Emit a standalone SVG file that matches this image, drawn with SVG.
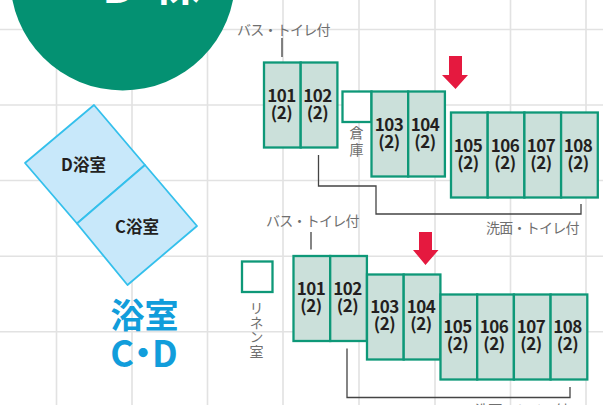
<svg xmlns="http://www.w3.org/2000/svg" width="603" height="405" viewBox="0 0 603 405">
<style>
text{font-family:"Noto Sans CJK JP","Noto Sans",sans-serif}
.g{stroke:#e2e2e2;stroke-width:1.6;fill:none}
.r{fill:#cbe0da;stroke:#0e9878;stroke-width:2.3}
.w{fill:#fff;stroke:#0e9878;stroke-width:2.3}
.n{font-size:17px;font-weight:700;fill:#231f20;text-anchor:middle;letter-spacing:-.5px}
.l{font-size:14px;fill:#6f6f6f;letter-spacing:-.75px}
.v{font-size:14px;fill:#6f6f6f;writing-mode:vertical-rl}
.c{fill:none;stroke:#444;stroke-width:1.3}
.a{fill:#e5193f}
.b{fill:#c8e8fa;stroke:#34c0ec;stroke-width:1.8;stroke-linejoin:round}
.t{font-size:16.500px;font-weight:700;fill:#231f20;text-anchor:middle}
.h{font-size:34px;font-weight:700;fill:#119ddb;text-anchor:middle}
</style>
<g id="grid" class="g">
<path d="M56.500 0V405M132 0V405M207.500 0V405M283 0V405M359 0V405M435 0V405M510.500 0V405M586 0V405"/>
<path d="M0 29.500H603M0 105H603M0 180.500H603M0 256.300H603M0 331.800H603"/>
</g>
<g id="title"><circle cx="122.700" cy="-22" r="112.500" fill="#049172"/>
<text font-size="48" font-weight="700" fill="#fff"><tspan x="102" y="3">D</tspan><tspan x="153" y="0">棟</tspan></text></g>
<g id="bath-d"><path class="b" d="M94 105L25 163L77 223.500L145 165Z"/><text class="t" x="83.500" y="171">D浴室</text></g>
<g id="bath-c"><path class="b" d="M145 165L77 223.500L127.500 285L197 226Z"/><text class="t" x="137" y="232.500">C浴室</text></g>
<g id="bath-title"><text class="h" x="144.500" y="327.500">浴室</text><text class="h" x="139.500" y="367" style="font-size:36px;letter-spacing:-9px">C・D</text></g>
<g id="connectors">
<path class="c" d="M282 38V57M318.500 155V186H376V214H581V204"/>
<path class="c" d="M311 232V249.500M347 348.500V397.500H570V387"/>
</g>
<g id="labels">
<text class="l" x="237" y="35">バス・トイレ付</text>
<text class="l" x="266" y="226">バス・トイレ付</text>
<text class="l" x="486" y="233">洗面・トイレ付</text>
<text class="l" x="475" y="415">洗面・トイレ付</text>
<text class="v" x="356.500" y="126" style="letter-spacing:3px">倉庫</text>
<text class="v" x="256.500" y="301" style="letter-spacing:.5px">リネン室</text>
</g>
<g id="arrow-top"><path class="a" d="M449 56H462V75H468L455.500 89L442 75H449Z"/></g>
<g id="arrow-bottom"><path class="a" d="M419 232H432V250H438.500L425.500 265L413 250H419Z"/></g>
<g id="storage"><rect class="w" x="342.500" y="91.500" width="29" height="30.500"/></g>
<g id="linen"><rect class="w" x="242" y="261.500" width="30.500" height="30.500"/></g>
<g id="a101"><rect class="r" x="264" y="62.500" width="36.700" height="85"/><text class="n"><tspan x="281.500" y="102">101</tspan><tspan x="281.500" y="119">(2)</tspan></text></g>
<g id="a102"><rect class="r" x="300.700" y="62.500" width="36.700" height="85"/><text class="n"><tspan x="317.500" y="102">102</tspan><tspan x="317.500" y="119">(2)</tspan></text></g>
<g id="a103"><rect class="r" x="371.500" y="91.500" width="36.700" height="85"/><text class="n"><tspan x="389" y="131">103</tspan><tspan x="389" y="148">(2)</tspan></text></g>
<g id="a104"><rect class="r" x="408.200" y="91.500" width="36.700" height="85"/><text class="n"><tspan x="425" y="131">104</tspan><tspan x="425" y="148">(2)</tspan></text></g>
<g id="a105"><rect class="r" x="451" y="112.500" width="36.700" height="85"/><text class="n"><tspan x="468" y="152">105</tspan><tspan x="468" y="169">(2)</tspan></text></g>
<g id="a106"><rect class="r" x="487.700" y="112.500" width="36.700" height="85"/><text class="n"><tspan x="505" y="152">106</tspan><tspan x="505" y="169">(2)</tspan></text></g>
<g id="a107"><rect class="r" x="524.400" y="112.500" width="36.700" height="85"/><text class="n"><tspan x="541" y="152">107</tspan><tspan x="541" y="169">(2)</tspan></text></g>
<g id="a108"><rect class="r" x="561.100" y="112.500" width="36.700" height="85"/><text class="n"><tspan x="578" y="152">108</tspan><tspan x="578" y="169">(2)</tspan></text></g>
<g id="b101"><rect class="r" x="293.500" y="256" width="36.700" height="85"/><text class="n"><tspan x="311" y="295">101</tspan><tspan x="311" y="312">(2)</tspan></text></g>
<g id="b102"><rect class="r" x="330.200" y="256" width="36.700" height="85"/><text class="n"><tspan x="347.500" y="295">102</tspan><tspan x="347.500" y="312">(2)</tspan></text></g>
<g id="b103"><rect class="r" x="367" y="274.500" width="36.700" height="85"/><text class="n"><tspan x="384.500" y="313">103</tspan><tspan x="384.500" y="330">(2)</tspan></text></g>
<g id="b104"><rect class="r" x="403.700" y="274.500" width="36.700" height="85"/><text class="n"><tspan x="421" y="313">104</tspan><tspan x="421" y="330">(2)</tspan></text></g>
<g id="b105"><rect class="r" x="440.500" y="294.500" width="36.700" height="85"/><text class="n"><tspan x="457.500" y="333">105</tspan><tspan x="457.500" y="350">(2)</tspan></text></g>
<g id="b106"><rect class="r" x="477.200" y="294.500" width="36.700" height="85"/><text class="n"><tspan x="494" y="333">106</tspan><tspan x="494" y="350">(2)</tspan></text></g>
<g id="b107"><rect class="r" x="513.900" y="294.500" width="36.700" height="85"/><text class="n"><tspan x="531" y="333">107</tspan><tspan x="531" y="350">(2)</tspan></text></g>
<g id="b108"><rect class="r" x="550.600" y="294.500" width="36.700" height="85"/><text class="n"><tspan x="567.500" y="333">108</tspan><tspan x="567.500" y="350">(2)</tspan></text></g>
</svg>
